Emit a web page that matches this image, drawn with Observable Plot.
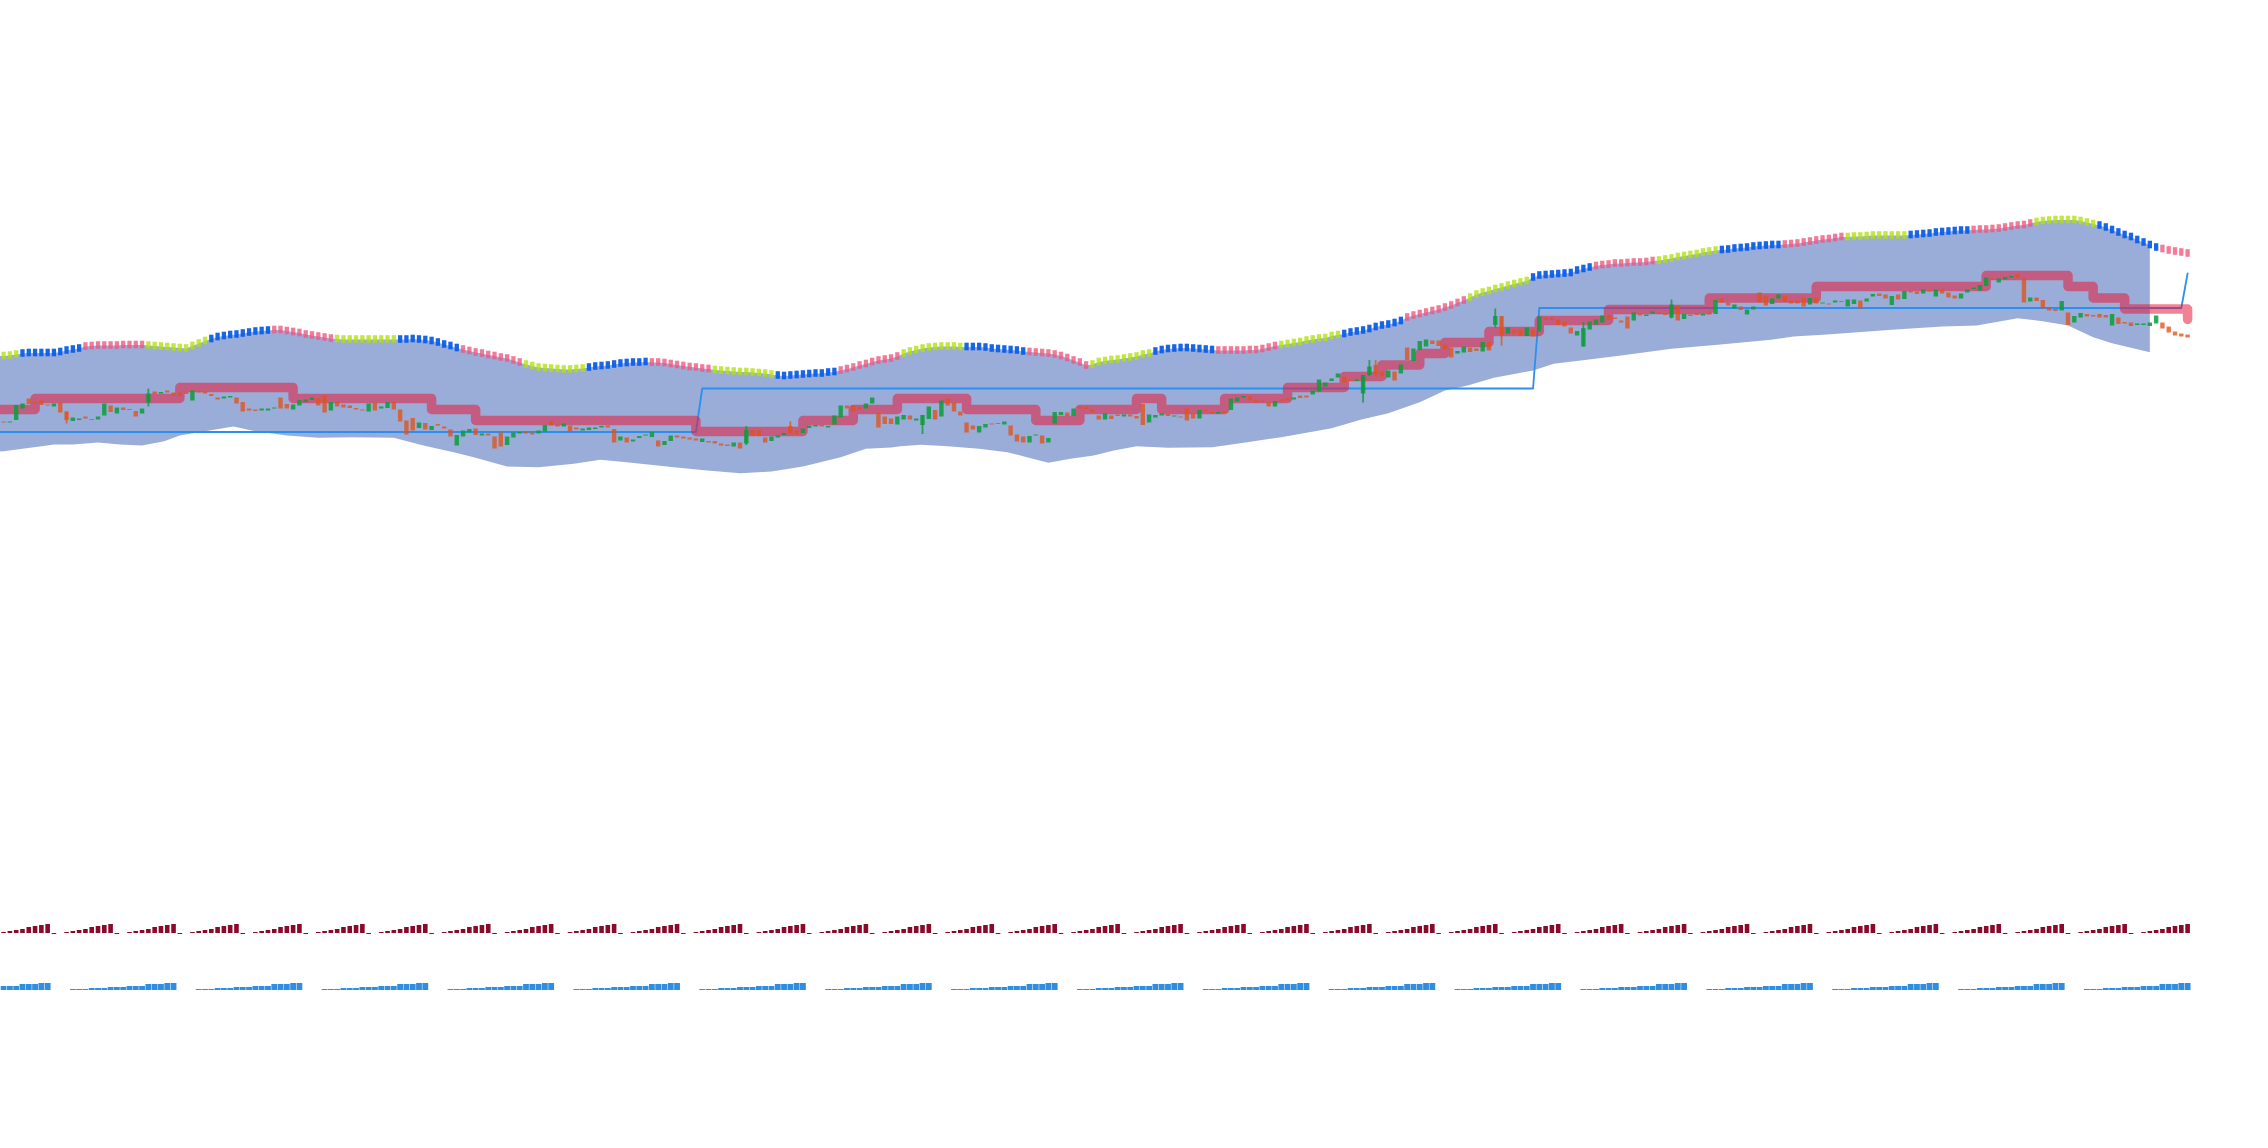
<!DOCTYPE html>
<html><head><meta charset="utf-8">
<script src="https://cdn.jsdelivr.net/npm/d3@7"></script>
<script src="https://cdn.jsdelivr.net/npm/@observablehq/plot@0.6"></script>
<style>html,body{margin:0;padding:0;background:#fff}svg{display:block;filter:blur(.7px)}</style>
</head><body><div id="chart"></div>
<script>
const opens=[578.5,577.5,580,591.5,601.5,598.5,599.5,595.5,593.5,597.5,
588.5,579,580,583.5,581,580.5,584.5,594.5,586.5,592.5,
591,589,586.5,597.5,608.5,606.5,609.5,607.5,607.5,608.5,
599.5,609,609,606,602.5,601.5,602.5,602.5,598,591.5,
590.5,589.5,589.5,591.5,602.5,596,590.5,594.5,598,600,
602,604.5,589.5,598.5,595.5,594.5,592,590.5,588.5,597.5,
591.5,592,598.5,590.5,579.5,582,572,577,570,576,
573.5,570.5,554.5,563.5,567.5,571.5,564.5,566.5,563.5,567.5,
555,562.5,566.5,568,567.5,566.5,568.5,579,575.5,573.5,
574.5,572.5,569.5,570,571,572.5,574.5,571,559.5,562.5,
558.5,562,564.5,563,559.5,555,559,564.5,563.5,562.5,
561.5,558,559,559,556.5,555.5,553.5,557.5,556.5,570,
570,562.5,559,562.5,565,574,569.5,567,572,573.5,
575,572.5,575.5,582.5,594.5,594.5,593,591.5,596.5,587.5,
583.5,581.5,575.5,580.5,584.5,579.5,575,581,590,583.5,
601.5,597.5,588.5,577.5,574.5,567.5,572.5,576.5,577,575.5,
574.5,565.5,563.5,557.5,564.5,564.5,557.5,576.5,585,587.5,
584,593.5,593.5,590.5,584.5,580.5,584.5,585.5,583.5,585.5,
584,596,577.5,582.5,584.5,586,583.5,583.5,591.5,586.5,
581.5,590.5,588,586.5,588.5,590,598.5,602.5,604,600,
599.5,598,593.5,600.5,602,600.5,604.5,604.5,605.5,608.5,
613.5,619,622.5,623.5,620.5,619,606.5,625,635,628.5,
622.5,628.5,626.5,652.5,639,650,653.5,659.5,659.5,655.5,
652.5,646.5,647.5,652.5,651.5,648.5,658,675,684,666.5,
670,670,664,670.5,668.5,682.5,682.5,680.5,678.5,672.5,
664.5,653.5,670.5,675.5,677.5,685,682.5,679.5,683.5,679.5,
686.5,684,686.5,687.5,686.5,682.5,695,681,685.5,686.5,
684.5,687.5,686,701.5,697.5,691.5,693.5,685.5,690.5,707.5,
704,696,701.5,704,699.5,699.5,702.5,695.5,702.5,696.5,
696.5,697.5,699,693.5,696,699.5,698.5,703.5,706.5,705.5,
695,705.5,701,709,708.5,706.5,710,703.5,710.5,707.5,
704.5,701.5,707.5,711,709.5,714,721.5,717.5,720.5,722.5,
726,721.5,698.5,702.5,700,693,691,689.5,687.5,677.5,
682.5,686,685,686,685,674.5,682.5,678,677.5,675,
675,674,676.5,677.5,673.5,668.5,666.5,665.5];
const closes=[577.5,578.5,595,596.5,596,596.5,595,594.5,596.5,587.5,
580,582.5,581.5,581.5,580,583.5,596.5,588,592.5,590,
590,583.5,591.5,606.5,606,608,607.5,604.5,604,606,
609.5,607.5,606.5,604,600.5,603.5,604,596.5,588.5,589.5,
589,591.5,591.5,592.5,591.5,591.5,595.5,600,600.5,602.5,
594.5,587.5,598,593.5,592.5,592,590.5,589.5,596.5,589.5,
593.5,598,590.5,578.5,565.5,569.5,577.5,570.5,574,574.5,
571.5,563.5,565,569.5,571,565,566.5,564.5,551.5,553.5,
563.5,567.5,568,566.5,565.5,569.5,575,574.5,573.5,576.5,
568.5,570.5,571.5,572.5,572.5,574,572.5,557.5,563.5,557.5,
560.5,564,565.5,568,553.5,559,564.5,562.5,561.5,560.5,
559.5,561.5,557.5,556.5,554.5,554,557.5,551.5,570,564.5,
564,557.5,563.5,564.5,567,566.5,565.5,571.5,574.5,575,
573.5,574,584.5,594.5,591.5,588.5,590.5,596.5,602.5,572.5,
576,576,583.5,585,580.5,581.5,585,593.5,580.5,599.5,
594.5,588.5,584.5,567.5,570.5,574,576,575.5,576,578.5,
564.5,558.5,557.5,564,565.5,556.5,562,588,588,584,
591.5,591.5,591,587.5,580.5,586.5,581,584,585.5,583.5,
581.5,575,585.5,585,586.5,584,584.5,582.5,579.5,581.5,
590,588.5,586.5,588,587,601.5,602.5,604,599.5,597.5,
598,593.5,599,599,599.5,602.5,602,602.5,609.5,620.5,
617.5,621.5,626.5,617.5,619,620.5,625,633.5,626,623.5,
629.5,619.5,635.5,640,651.5,659,660.5,656,654,650.5,
642.5,649,653.5,648,649,658,649.5,684,665,672.5,
666.5,664,672.5,663.5,683.5,680,680,675,673.5,666.5,
669,672,678.5,680.5,684.5,680,681,677.5,671.5,687.5,
684.5,685.5,688.5,686,685,695.5,679.5,686,684,685,
686,685.5,700,697.5,694.5,695.5,690,690.5,693.5,697.5,
694.5,701.5,705.5,698,696.5,696.5,693.5,702,696.5,697.5,
695.5,699.5,698,700.5,700.5,691.5,701.5,706,704,701.5,
704,700.5,709,707.5,706,710.5,708.5,710.5,706.5,702.5,
701.5,706.5,710.5,712.5,715,722.5,720,721.5,723,724,
722,697.5,702.5,699,691.5,689.5,689,699,675,684,
687,683.5,683.5,682.5,682.5,686,676,676.5,674,676.5,
676.5,677.5,684.5,671.5,667.5,664.5,663.5,662.5];
const wickIndex=[10,23,118,125,146,216,217,218,237,238,251,265];
const wickHigh=[588.5,611.5,574,578.5,585,625,640,640,691.5,684,678,700.5];
const wickLow=[576.5,593.5,555,566,566,597.5,624,623.5,672.5,654.5,653.5,681.5];

const cloudTop=[644.5,645,646,647,647.5,647.5,647.5,647.5,647.5,648.5,
650,651,652,654,654.5,655,655,655,655,655.5,
655.5,655.5,655.5,655,654.5,654,653.5,653,652.5,652,
654.5,657,659.5,661.5,663.5,664.5,665.5,666,667,668,
669,669.5,670,670.5,670.5,669.5,668.5,667.5,666,665,
664,663,662,661.5,661,661,661,661,661,661,
661,661,661,661,661,661.5,661,660.5,659.5,658,
656,654.5,652.5,651,649.5,648,647,645.5,644.5,643,
642,640,638,636,634.5,633,632.5,632,631.5,631,
631,631.5,632,633,634,634.5,635,636,637,637.5,
638,638,638.5,638,638,637.5,636.5,635.5,634.5,633.5,
633,632,631.5,630.5,630,629.5,629,628.5,628.5,628,
627.5,627,626,625,624.5,625,625.5,626,626.5,627,
627,628,628.5,630,631.5,633,635,636.5,638.5,640,
641,642,644,647,649,650.5,652,653,653.5,654,
654,654,653.5,653.5,653.5,653.5,653,652,651.5,651,
650.5,650,649,648.5,648,647.5,647,646,644.5,642.5,
640,638,635,636,638.5,639.5,640.5,641,642,643,
644,646,647,649,650.5,651.5,652,652.5,652.5,652,
651.5,651,650.5,650,650,650,650,650,650.5,650.5,
651.5,653,654.5,655.5,656.5,657.5,658.5,660,661,662,
662.5,664.5,665.5,666.5,668,669,670,671.5,673.5,675,
676,677.5,679.5,683,685,686.5,688,689.5,691,693,
695,697.5,700,703,706,708,709.5,711.5,713,715,
716.5,718,719.5,723,725,725.5,726,726.5,727,727.5,
730,731.5,733,734.5,735.5,736,737,737,737.5,738,
738,738.5,739.5,740,741,742,743.5,744.5,745.5,746.5,
748,749,750,750.5,751,752,752.5,753,754,754.5,
755,755.5,755.5,756,756.5,757,758,759,760,761,
761.5,762.5,763.5,763.5,764,764,764.5,765,765,765,
765,765,765,765.5,766,766.5,767,768,768.5,769,
769.5,770,770,770.5,771,771,771.5,772,773,774,
775,775.5,777,778.5,779.5,780,780.5,780.5,780.5,780.5,
779.5,778,776.5,775,773,770.5,768,765.5,763.5,760.5,
758,755.5,753,751.5,750,749,748,747];
const cloudEndBar=341;
const cloudBottomBars=[-1,0,3,6,8,11,15,18.5,22,25.5,28,32,36.5,40,45,50,55.5,62,66.7,71.5,74.7,80,85,90.6,94.8,99,106.5,111.8,117,122,127,133,137,141,142.5,145.7,150,155,159.5,162.6,166,169.5,173.2,176.4,180,185,192,197.6,203,211,215.6,220,225,229,232.6,236.8,243,246.3,250.6,257,265,272.8,280.8,284.4,289.7,300,308,313.5,320,324,328,332,335,341];
const cloudBottom=[548.8,549.3,551.7,554.3,556,556,558,556,555,559.3,565,569.3,574,569.3,565,562.7,563.3,562.7,555,548.3,543.3,534,533.3,536.7,540.7,538.3,533.3,530,527.3,529,534,543.3,551.7,553,554.3,555.7,554.3,551.7,548.3,543.3,537.7,541.7,545,550,554.3,552.7,553.3,558.3,563.3,572.3,580.7,587.3,598.3,610,615,622.7,630,636.7,640,645,651.7,656,660.7,664,666,670.7,674,675,682.3,679.3,675,663.3,657.3,648.3];

const baseBars=[-1,110,111,243,244,346,347];
const baseLevels=[568.5,568.5,612,612,692.5,692.5,727];

const stopBars=[-1,5,28,46,68,75,110,127,135,142,153,164,171,180,184,194,204,213,219,225,229,236,244,255,271,288,315,328,332,337,347,347];
const stopLevels=[591,602,613,602,591,580,569,580,591,602,591,580,591,602,591,602,613,624,635.5,647,658,669,680,691,702.5,714,725,714,702.5,691.5,691.5,681];

const phaseNames=["blue","pink","green"];
const phaseLength=10, phaseOffset=3;
const phaseColors={blue:"#0a5ee8",pink:"#f0557c",green:"#b0e208"};

const redGroupPeriod=10, redCycle=[1,2,3,4,6,7,8,9,-1], redBase=67;
const blueGroupPeriod=20, blueGroupStart=-9, blueCycle=[1,1,1,2,2,2,3,3,3,4,4,4,6,6,6,7,7], blueBase=10;

const lastBar=opens.length-1;
const candles=opens.map((o,i)=>({i,o,c:closes[i]}));
const wicks=wickIndex.map((i,k)=>({i,hi:wickHigh[k],lo:wickLow[k],up:closes[i]>=opens[i]}));
const phaseOf=i=>i<phaseOffset?"green":phaseNames[Math.floor((i-phaseOffset)/phaseLength)%3];
const topRows=cloudTop.map((v,i)=>({i,v,phase:phaseOf(i)}));
const cloudPolygon=[{i:-1,v:cloudTop[0]},...topRows.filter(d=>d.i<=cloudEndBar),
  ...cloudBottomBars.map((b,k)=>({i:b,v:cloudBottom[k]})).reverse()];
const redRows=[],blueRows=[];
for(let g=0;g<=lastBar;g+=redGroupPeriod)redCycle.forEach((h,k)=>{if(g+k<=lastBar)redRows.push({i:g+k,h})});
for(let g=blueGroupStart;g<=lastBar;g+=blueGroupPeriod)blueCycle.forEach((h,k)=>{const i=g+k;if(i>=0&&i<=lastBar)blueRows.push({i,h})});
const baseRows=baseBars.map((i,k)=>({i,v:baseLevels[k]}));
const stopRows=stopBars.map((i,k)=>({i,v:stopLevels[k]}));

const upColor="#0c9c3a",downColor="#e0521a";
const chart=Plot.plot({
  width:2268,height:1148,
  marginLeft:3.1,marginRight:80.9,marginTop:0,marginBottom:0,
  x:{domain:[0,lastBar],axis:null},
  y:{domain:[-148,1000],axis:null},
  marks:[
    Plot.line(cloudPolygon,{x:"i",y:"v",fill:"#9aacd8",stroke:"none"}),
    Plot.line(baseRows,{x:"i",y:"v",stroke:"#2b8ff0",strokeWidth:1.8,strokeLinejoin:"round"}),
    Plot.line(stopRows,{x:"i",y:"v",curve:"step-after",stroke:"#e81c3a",strokeOpacity:.55,strokeWidth:9.5,strokeLinejoin:"round",strokeLinecap:"round"}),
    ...phaseNames.map(p=>Plot.ruleX(topRows.filter(d=>d.phase===p),{x:"i",y1:d=>d.v-3.8,y2:d=>d.v+3.8,stroke:phaseColors[p],strokeWidth:4.3,strokeOpacity:p==="blue"?.95:.78})),
    Plot.ruleX(wicks.filter(d=>d.up),{x:"i",y1:"lo",y2:"hi",stroke:upColor,strokeWidth:1.8,strokeOpacity:.8}),
    Plot.ruleX(wicks.filter(d=>!d.up),{x:"i",y1:"lo",y2:"hi",stroke:downColor,strokeWidth:1.8,strokeOpacity:.75}),
    Plot.ruleX(candles.filter(d=>d.c>=d.o),{x:"i",y1:"o",y2:"c",stroke:upColor,strokeWidth:4.4,strokeOpacity:.85}),
    Plot.ruleX(candles.filter(d=>d.c<d.o),{x:"i",y1:"o",y2:"c",stroke:downColor,strokeWidth:4.4,strokeOpacity:.78}),
    Plot.ruleX(redRows,{x:"i",y1:redBase,y2:d=>redBase+d.h,stroke:"#8a0a2a",strokeWidth:4.6}),
    Plot.ruleX(blueRows,{x:"i",y1:blueBase,y2:d=>blueBase+d.h,stroke:"#2f8de2",strokeWidth:5.8})
  ]
});
document.getElementById("chart").append(chart);
</script></body></html>
